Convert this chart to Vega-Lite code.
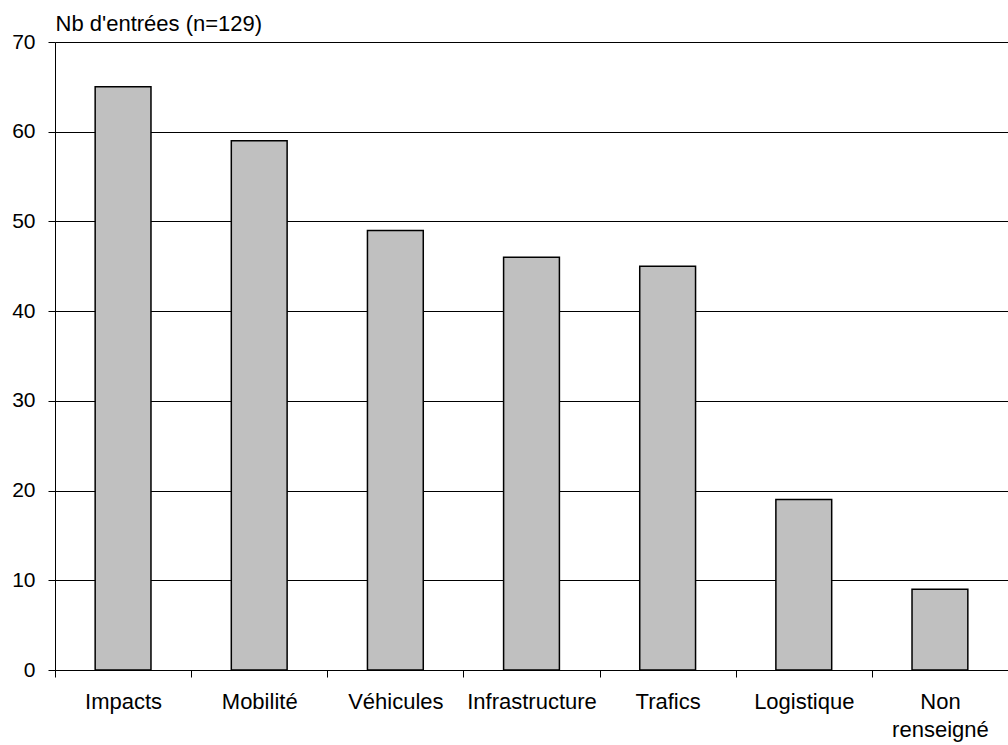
{
  "$schema": "https://vega.github.io/schema/vega-lite/v6.json",
  "width": 953,
  "height": 628,
  "autosize": "none",
  "padding": {"left": 55, "top": 42, "right": 0, "bottom": 75},
  "background": "white",
  "config": {
    "font": "Liberation Sans",
    "view": {"stroke": null},
    "axis": {"labelFont": "Liberation Sans", "titleFont": "Liberation Sans"}
  },
  "data": {
    "values": [
      {"categorie": "Impacts", "entrees": 65},
      {"categorie": "Mobilité", "entrees": 59},
      {"categorie": "Véhicules", "entrees": 49},
      {"categorie": "Infrastructure", "entrees": 46},
      {"categorie": "Trafics", "entrees": 45},
      {"categorie": "Logistique", "entrees": 19},
      {"categorie": "Non renseigné", "entrees": 9}
    ]
  },
  "mark": {"type": "bar", "fill": "#c0c0c0", "stroke": "black", "strokeWidth": 1.5},
  "encoding": {
    "x": {
      "field": "categorie",
      "type": "nominal",
      "sort": null,
      "scale": {"paddingInner": 0.59, "paddingOuter": 0.295},
      "axis": {
        "title": null,
        "labelAngle": 0,
        "labelFontSize": 22,
        "labelColor": "black",
        "labelPadding": 14,
        "labelLineHeight": 28,
        "labelExpr": "datum.label == 'Non renseigné' ? ['Non', 'renseigné'] : datum.label",
        "bandPosition": 0,
        "tickOffset": -40.16,
        "labelOffset": 40.16,
        "tickSize": 7,
        "tickColor": "black",
        "domainColor": "black",
        "domainWidth": 1,
        "grid": false
      }
    },
    "y": {
      "field": "entrees",
      "type": "quantitative",
      "scale": {"domain": [0, 70], "nice": false},
      "axis": {
        "values": [0, 10, 20, 30, 40, 50, 60, 70],
        "title": "Nb d'entrées (n=129)",
        "titleAngle": 0,
        "titleAlign": "left",
        "titleBaseline": "alphabetic",
        "titleX": 0,
        "titleY": -12,
        "titleFontSize": 22,
        "titleFontWeight": "normal",
        "titleColor": "black",
        "labelFontSize": 21,
        "labelColor": "black",
        "labelPadding": 13,
        "tickSize": 7,
        "tickColor": "black",
        "domainColor": "black",
        "grid": true,
        "gridColor": "black",
        "gridOpacity": 1,
        "gridWidth": 1
      }
    }
  }
}
